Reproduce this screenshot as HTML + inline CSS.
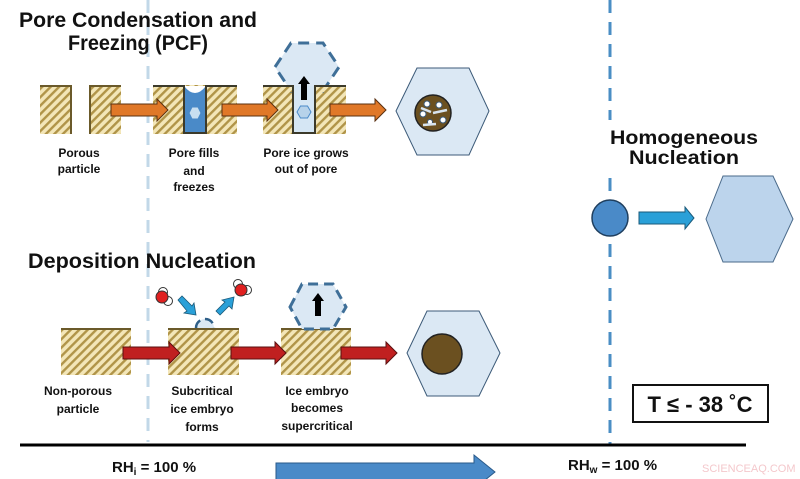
<!DOCTYPE html>
<html><head><meta charset="utf-8"><style>
html,body{margin:0;padding:0;background:#fff;}
svg{display:block;}
text{font-family:"Liberation Sans",sans-serif;font-weight:bold;fill:#111;}
</style></head><body>
<svg width="800" height="479" viewBox="0 0 800 479" xmlns="http://www.w3.org/2000/svg">
<defs>
<pattern id="h" patternUnits="userSpaceOnUse" width="6" height="6" patternTransform="rotate(45)">
<rect width="6" height="6" fill="#f3e6b8"/><rect width="2.4" height="6" fill="#b09448"/>
</pattern>
</defs>
<!-- dashed lines -->
<line x1="148" y1="0" x2="148" y2="442" stroke="#c2d8e8" stroke-width="3" stroke-dasharray="13,9"/>
<line x1="610" y1="0" x2="610" y2="120" stroke="#4a8ec4" stroke-width="3" stroke-dasharray="13,9"/>
<line x1="610" y1="178" x2="610" y2="445" stroke="#4a8ec4" stroke-width="3" stroke-dasharray="13,9"/>
<!-- titles -->
<text x="138" y="27" font-size="21" text-anchor="middle" textLength="238" lengthAdjust="spacingAndGlyphs">Pore Condensation and</text>
<text x="138" y="50" font-size="21" text-anchor="middle" textLength="140" lengthAdjust="spacingAndGlyphs">Freezing (PCF)</text>
<text x="28" y="268" font-size="21" textLength="228" lengthAdjust="spacingAndGlyphs">Deposition Nucleation</text>
<text x="684" y="144" font-size="19" text-anchor="middle" textLength="148" lengthAdjust="spacingAndGlyphs">Homogeneous</text>
<text x="684" y="164" font-size="19" text-anchor="middle" textLength="110" lengthAdjust="spacingAndGlyphs">Nucleation</text>

<!-- PCF row -->
<rect x="40" y="85" width="31" height="49" fill="url(#h)"/>
<path d="M40 86 H71 V134" fill="none" stroke="#6b5a2a" stroke-width="2"/>
<rect x="90" y="85" width="31" height="49" fill="url(#h)"/>
<path d="M90 134 V86 H121" fill="none" stroke="#6b5a2a" stroke-width="2"/>

<rect x="153" y="85" width="84" height="49" fill="url(#h)"/>
<rect x="184" y="86" width="22" height="47" fill="#4a8ac8"/>
<path d="M184 86 Q195 100 206 86 Z" fill="#fff"/>
<path d="M153 86 H184 V133 H206 V86 H237" fill="none" stroke="#3c3a2a" stroke-width="2"/>
<polygon points="189,113 192,107 198,107 201,113 198,119 192,119" fill="#c9dff0" stroke="#4a8ac8"/>

<rect x="263" y="85" width="83" height="49" fill="url(#h)"/>
<polygon points="275,67 291,43 323,43 339,67 323,91 291,91" fill="#dbe8f4" stroke="#3f6f98" stroke-width="3" stroke-dasharray="11,7"/>
<rect x="263" y="86" width="30" height="6" fill="url(#h)"/>
<rect x="315" y="86" width="31" height="6" fill="url(#h)"/>
<rect x="293" y="86" width="22" height="47" fill="#d5e6f4"/>
<path d="M263 86 H293 V133 H315 V86 H346" fill="none" stroke="#3c3a2a" stroke-width="2"/>
<polygon points="297,112 300.5,106 307.5,106 311,112 307.5,118 300.5,118" fill="#b6d2ea" stroke="#4a8ac8"/>
<polygon points="301,100 301,84 298,84 304,76 310,84 307,84 307,100" fill="#000"/>

<g fill="#e07828" stroke="#5a3010" stroke-width="1">
<polygon points="111,104 157,104 157,99 168,110 157,121 157,116 111,116"/>
<polygon points="222,104 267,104 267,99 278,110 267,121 267,116 222,116"/>
<polygon points="330,104 375,104 375,99 386,110 375,121 375,116 330,116"/>
</g>
<polygon points="396,111 417,68 469,68 489,111 469,155 417,155" fill="#dbe8f4" stroke="#3c5a78" stroke-width="1"/>
<circle cx="433" cy="113" r="18" fill="#6b5020" stroke="#222" stroke-width="1.5"/>
<g fill="#fff" stroke="#3c5a78" stroke-width="1"><circle cx="427" cy="104" r="3"/><circle cx="439" cy="105" r="3"/><circle cx="423" cy="114" r="3"/><circle cx="443" cy="120" r="3"/><circle cx="430" cy="122" r="2.5"/></g>
<path d="M421 108 L431 112 M433 113 L447 110 M423 125 L436 124" stroke="#d8e4ee" stroke-width="2.5"/>

<g font-size="12" text-anchor="middle">
<text x="79" y="157">Porous</text><text x="79" y="173">particle</text>
<text x="194" y="157">Pore fills</text><text x="194" y="175">and</text><text x="194" y="191">freezes</text>
<text x="306" y="157">Pore ice grows</text><text x="306" y="173">out of pore</text>
<text x="78" y="395">Non-porous</text><text x="78" y="413">particle</text>
<text x="202" y="395">Subcritical</text><text x="202" y="413">ice embryo</text><text x="202" y="431">forms</text>
<text x="317" y="395">Ice embryo</text><text x="317" y="412">becomes</text><text x="317" y="430">supercritical</text>
</g>

<!-- Deposition row -->
<rect x="61" y="329" width="70" height="46" fill="url(#h)"/>
<line x1="61" y1="329" x2="131" y2="329" stroke="#6b5a2a" stroke-width="2"/>
<rect x="168" y="329" width="71" height="46" fill="url(#h)"/>
<line x1="168" y1="329" x2="239" y2="329" stroke="#6b5a2a" stroke-width="2"/>
<rect x="281" y="329" width="70" height="46" fill="url(#h)"/>
<line x1="281" y1="329" x2="351" y2="329" stroke="#6b5a2a" stroke-width="2"/>
<path d="M196 328 A9 9 0 0 1 214 328 Z" fill="#dbe8f4"/>
<path d="M196 328 A9 9 0 0 1 214 328" fill="none" stroke="#2f5f88" stroke-width="2.5" stroke-dasharray="9,5"/>
<polygon points="290,307 302,284 333,284 346,307 333,329 302,329" fill="#dbe8f4" stroke="#3f6f98" stroke-width="3" stroke-dasharray="10,6"/>
<polygon points="315,316 315,301 312,301 318,293 324,301 321,301 321,316" fill="#000"/>
<g fill="#2aa0d8" stroke="#1a5a7a" stroke-width="0.8">
<polygon points="178,300 182,296 192,306 194,303 196,315 184,313 187,311"/>
<polygon points="220,315 216,311 225,302 222,300 234,297 232,309 229,306"/>
</g>
<circle cx="163" cy="292" r="4.5" fill="#fff" stroke="#333"/><circle cx="168" cy="301" r="4.5" fill="#fff" stroke="#333"/><circle cx="162" cy="297" r="6" fill="#e02020" stroke="#333"/>
<circle cx="238" cy="284" r="4.5" fill="#fff" stroke="#333"/><circle cx="247" cy="290" r="4.5" fill="#fff" stroke="#333"/><circle cx="241" cy="290" r="6" fill="#e02020" stroke="#333"/>
<g fill="#c02020" stroke="#5a1010" stroke-width="1">
<polygon points="123,347 169,347 169,342 180,353 169,364 169,359 123,359"/>
<polygon points="231,347 275,347 275,342 286,353 275,364 275,359 231,359"/>
<polygon points="341,347 386,347 386,342 397,353 386,364 386,359 341,359"/>
</g>
<polygon points="407,353 427,311 479,311 500,353 479,396 427,396" fill="#dbe8f4" stroke="#3c5a78" stroke-width="1"/>
<circle cx="442" cy="354" r="20" fill="#6b5020" stroke="#222" stroke-width="1.5"/>

<!-- Homogeneous -->
<circle cx="610" cy="218" r="18" fill="#4a8ac8" stroke="#1f3f5f" stroke-width="1.5"/>
<polygon points="639,212 685,212 685,207 694,218 685,229 685,224 639,224" fill="#2aa0d8" stroke="#1a5a7a"/>
<polygon points="706,219 723,176 773,176 793,219 773,262 723,262" fill="#bcd4ec" stroke="#4a6a8a"/>

<rect x="633" y="385" width="135" height="37" fill="#fff" stroke="#111" stroke-width="2"/>
<text x="700" y="412" font-size="22" text-anchor="middle">T ≤ - 38 ˚C</text>

<!-- axis -->
<line x1="20" y1="445" x2="746" y2="445" stroke="#000" stroke-width="3"/>
<text x="112" y="472" font-size="15">RH<tspan font-size="10" dy="3">i</tspan><tspan dy="-3"> = 100 %</tspan></text>
<text x="568" y="470" font-size="15">RH<tspan font-size="10" dy="3">w</tspan><tspan dy="-3"> = 100 %</tspan></text>
<polygon points="276,463 474,463 474,455 495,472 474,489 474,481 276,481" fill="#4a8ac8" stroke="#2a5a8a"/>
<text x="702" y="472" font-size="11" style="fill:#f4c8cc;font-weight:normal">SCIENCEAQ.COM</text>
</svg>
</body></html>
